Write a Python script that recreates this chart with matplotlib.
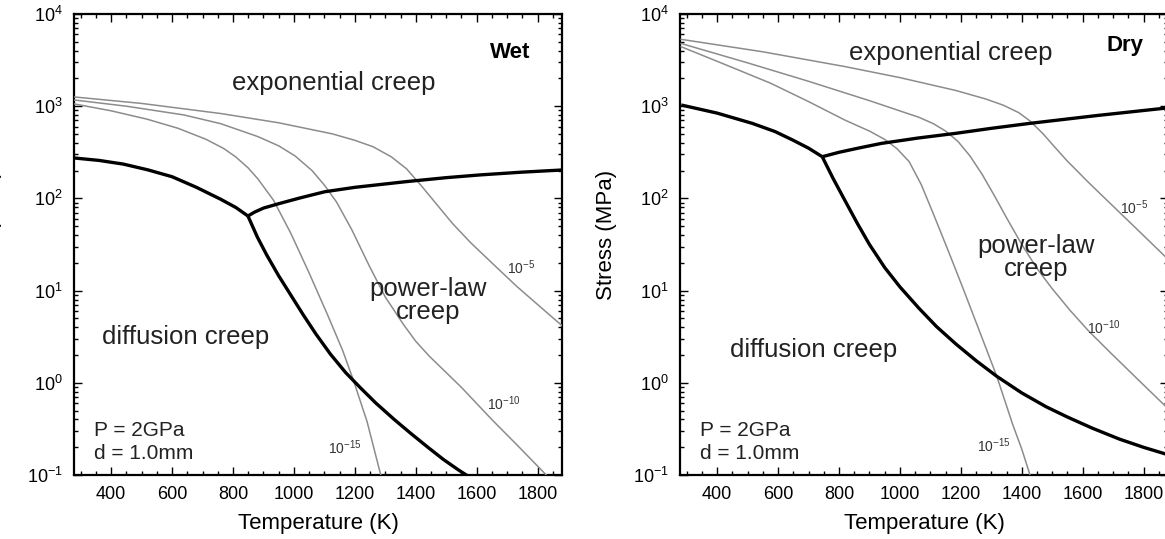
import numpy as np
import matplotlib
matplotlib.use("Agg")
import matplotlib.pyplot as plt
from matplotlib.ticker import FixedLocator, MultipleLocator, LogLocator, NullFormatter

plt.rcParams['font.family'] = ['Liberation Sans', 'DejaVu Sans']
plt.rcParams['mathtext.fontset'] = 'custom'
plt.rcParams['mathtext.rm'] = 'Liberation Sans'
plt.rcParams['mathtext.it'] = 'Liberation Sans:italic'
plt.rcParams['mathtext.bf'] = 'Liberation Sans:bold'

# ---------------- Wet olivine ----------------
# mechanism boundaries: temperature (K) and log10 stress (MPa)
wet_diff_exp_T = [280, 360, 440, 520, 600, 680, 760, 810, 849]
wet_diff_exp_logs = [2.438, 2.412, 2.372, 2.31, 2.235, 2.12, 1.99, 1.90, 1.809]
wet_exp_pow_T = [849, 870, 900, 955, 1020, 1101, 1200, 1369, 1500, 1612, 1750, 1880]
wet_exp_pow_logs = [1.809, 1.85, 1.895, 1.947, 2.005, 2.072, 2.12, 2.182, 2.225, 2.255, 2.285, 2.308]
wet_diff_pow_T = [849, 880, 910, 950, 990, 1030, 1072, 1120, 1170, 1220, 1269, 1330,
                  1384, 1440, 1490, 1540, 1580, 1600]
wet_diff_pow_logs = [1.809, 1.58, 1.39, 1.16, 0.95, 0.74, 0.53, 0.31, 0.11, -0.06, -0.22, -0.40,
                     -0.55, -0.70, -0.83, -0.945, -1.03, -1.07]

# iso-strain-rate contours, keyed by log10 strain rate (1/s)
wet_rate_T = {
    -5: [280, 500, 761, 950, 1126, 1200, 1260, 1320, 1370, 1420, 1470, 1520, 1580,
         1650, 1730, 1810, 1880],
    -10: [280, 450, 639, 760, 882, 950, 1004, 1060, 1101, 1140, 1190, 1247, 1300, 1360,
          1400, 1444, 1550, 1650, 1740, 1840],
    -15: [280, 400, 517, 620, 712, 770, 809, 850, 882, 933, 990, 1050, 1110, 1160,
          1195, 1240, 1285],
}
wet_rate_logs = {
    -5: [3.10, 3.03, 2.92, 2.82, 2.70, 2.63, 2.56, 2.45, 2.32, 2.13, 1.93, 1.73, 1.52,
         1.30, 1.05, 0.82, 0.62],
    -10: [3.067, 3.00, 2.905, 2.81, 2.67, 2.57, 2.46, 2.30, 2.14, 1.96, 1.66, 1.27, 0.93, 0.63,
          0.45, 0.29, -0.05, -0.40, -0.70, -1.04],
    -15: [3.024, 2.95, 2.86, 2.76, 2.64, 2.54, 2.45, 2.33, 2.21, 1.98, 1.62, 1.19, 0.74, 0.35,
          0.03, -0.42, -1.0],
}

# ---------------- Dry olivine ----------------
dry_diff_exp_T = [282, 400, 515, 590, 648, 700, 745]
dry_diff_exp_logs = [3.013, 2.925, 2.814, 2.725, 2.633, 2.545, 2.452]
dry_exp_pow_T = [745, 800, 870, 940, 1060, 1184, 1300, 1427, 1650, 1880]
dry_exp_pow_logs = [2.452, 2.50, 2.55, 2.597, 2.655, 2.706, 2.76, 2.814, 2.90, 2.982]
dry_diff_pow_T = [745, 780, 819, 860, 900, 950, 1000, 1062, 1120, 1184, 1250, 1318, 1400,
                  1480, 1549, 1630, 1720, 1800, 1880]
dry_diff_pow_logs = [2.452, 2.22, 1.98, 1.73, 1.50, 1.25, 1.04, 0.81, 0.61, 0.42, 0.24, 0.07,
                     -0.11, -0.26, -0.37, -0.49, -0.61, -0.70, -0.78]

dry_rate_T = {
    -5: [282, 550, 819, 1000, 1184, 1280, 1340, 1390, 1427, 1470, 1510, 1548, 1620, 1689,
         1780, 1880],
    -10: [282, 500, 700, 900, 1062, 1110, 1150, 1190, 1230, 1270, 1310, 1350, 1400, 1450,
          1500, 1560, 1620, 1690, 1780, 1880],
    -15: [282, 420, 575, 700, 819, 900, 950, 990, 1030, 1070, 1110, 1160, 1210, 1260,
          1318, 1370, 1400, 1427],
}
dry_rate_logs = {
    -5: [3.725, 3.59, 3.43, 3.31, 3.17, 3.08, 3.01, 2.93, 2.84, 2.70, 2.55, 2.41, 2.17, 1.95,
         1.66, 1.34],
    -10: [3.68, 3.47, 3.27, 3.06, 2.88, 2.81, 2.73, 2.62, 2.46, 2.26, 2.03, 1.79, 1.50, 1.24,
          1.02, 0.78, 0.56, 0.33, 0.04, -0.28],
    -15: [3.645, 3.46, 3.25, 3.05, 2.85, 2.73, 2.64, 2.54, 2.40, 2.15, 1.83, 1.42, 1.00, 0.57,
          0.07, -0.45, -0.72, -1.0],
}

t_ticks = [400, 600, 800, 1000, 1200, 1400, 1600, 1800]
t_range = (278, 1880)
s_range = (0.1, 1e4)

THICK = dict(color='black', lw=2.4, solid_capstyle='butt', solid_joinstyle='round', zorder=4)
THIN = dict(color='#8c8c8c', lw=1.1, solid_joinstyle='round', zorder=3)


def style_axes(ax, label_x):
    ax.set_yscale('log')
    ax.set_xlim(*t_range)
    ax.set_ylim(*s_range)
    ax.xaxis.set_major_locator(FixedLocator(t_ticks))
    ax.xaxis.set_minor_locator(MultipleLocator(50))
    ax.yaxis.set_major_locator(LogLocator(base=10, numticks=10))
    ax.yaxis.set_minor_locator(LogLocator(base=10, subs=np.arange(2, 10), numticks=20))
    ax.yaxis.set_minor_formatter(NullFormatter())
    ax.tick_params(which='both', direction='in', top=True, right=True, width=1.0)
    ax.tick_params(which='major', length=6, labelsize=13, pad=8)
    ax.tick_params(which='minor', length=3)
    for sp in ax.spines.values():
        sp.set_linewidth(1.6)
    ax.set_xlabel('Temperature (K)', fontsize=16, labelpad=7)
    ax.set_ylabel('Stress (MPa)', fontsize=16)
    ax.yaxis.set_label_coords(label_x, 0.52)


def draw_panel(ax, rate_T, rate_logs, bounds, label_x):
    for k in rate_T:
        ax.plot(rate_T[k], 10 ** np.array(rate_logs[k]), **THIN)
    for T, logs in bounds:
        ax.plot(T, 10 ** np.array(logs), **THICK)
    style_axes(ax, label_x)


fig = plt.figure(figsize=(11.65, 5.39), dpi=100)
ax1 = fig.add_axes([74 / 1165, 64 / 539, 488 / 1165, 461 / 539])
ax2 = fig.add_axes([680 / 1165, 64 / 539, 488 / 1165, 461 / 539])

draw_panel(ax1, wet_rate_T, wet_rate_logs,
           [(wet_diff_exp_T, wet_diff_exp_logs), (wet_exp_pow_T, wet_exp_pow_logs),
            (wet_diff_pow_T, wet_diff_pow_logs)], -0.147)
draw_panel(ax2, dry_rate_T, dry_rate_logs,
           [(dry_diff_exp_T, dry_diff_exp_logs), (dry_exp_pow_T, dry_exp_pow_logs),
            (dry_diff_pow_T, dry_diff_pow_logs)], -0.13)

region_fs = 18.5
txt = '#222222'
lab = '#333333'
# Wet panel annotations
ax1.text(1711, 3870, 'Wet', fontsize=16, fontweight='bold', ha='center', va='center')
ax1.text(1131, 1786, 'exponential creep', fontsize=region_fs, ha='center', va='center', color=txt)
ax1.text(1440, 7.8, 'power-law\ncreep', fontsize=region_fs, ha='center', va='center',
         linespacing=0.95, color=txt)
ax1.text(646, 3.1, 'diffusion creep', fontsize=region_fs, ha='center', va='center', color=txt)
ax1.text(344, 0.23, 'P = 2GPa\nd = 1.0mm', fontsize=15, ha='left', va='center',
         linespacing=1.25, color=txt)
ax1.text(1745, 17.5, r'$10^{-5}$', fontsize=10, ha='center', va='center', color=lab)
ax1.text(1690, 0.6, r'$10^{-10}$', fontsize=10, ha='center', va='center', color=lab)
ax1.text(1167, 0.2, r'$10^{-15}$', fontsize=10, ha='center', va='center', color=lab)

# Dry panel annotations
ax2.text(1738, 4500, 'Dry', fontsize=16, fontweight='bold', ha='center', va='center')
ax2.text(1167, 3780, 'exponential creep', fontsize=region_fs, ha='center', va='center', color=txt)
ax2.text(1446, 23, 'power-law\ncreep', fontsize=region_fs, ha='center', va='center',
         linespacing=0.95, color=txt)
ax2.text(718, 2.25, 'diffusion creep', fontsize=region_fs, ha='center', va='center', color=txt)
ax2.text(344, 0.23, 'P = 2GPa\nd = 1.0mm', fontsize=15, ha='left', va='center',
         linespacing=1.25, color=txt)
ax2.text(1770, 80, r'$10^{-5}$', fontsize=10, ha='center', va='center', color=lab)
ax2.text(1669, 4.0, r'$10^{-10}$', fontsize=10, ha='center', va='center', color=lab)
ax2.text(1308, 0.21, r'$10^{-15}$', fontsize=10, ha='center', va='center', color=lab)

fig.savefig('out.png', dpi=100)
